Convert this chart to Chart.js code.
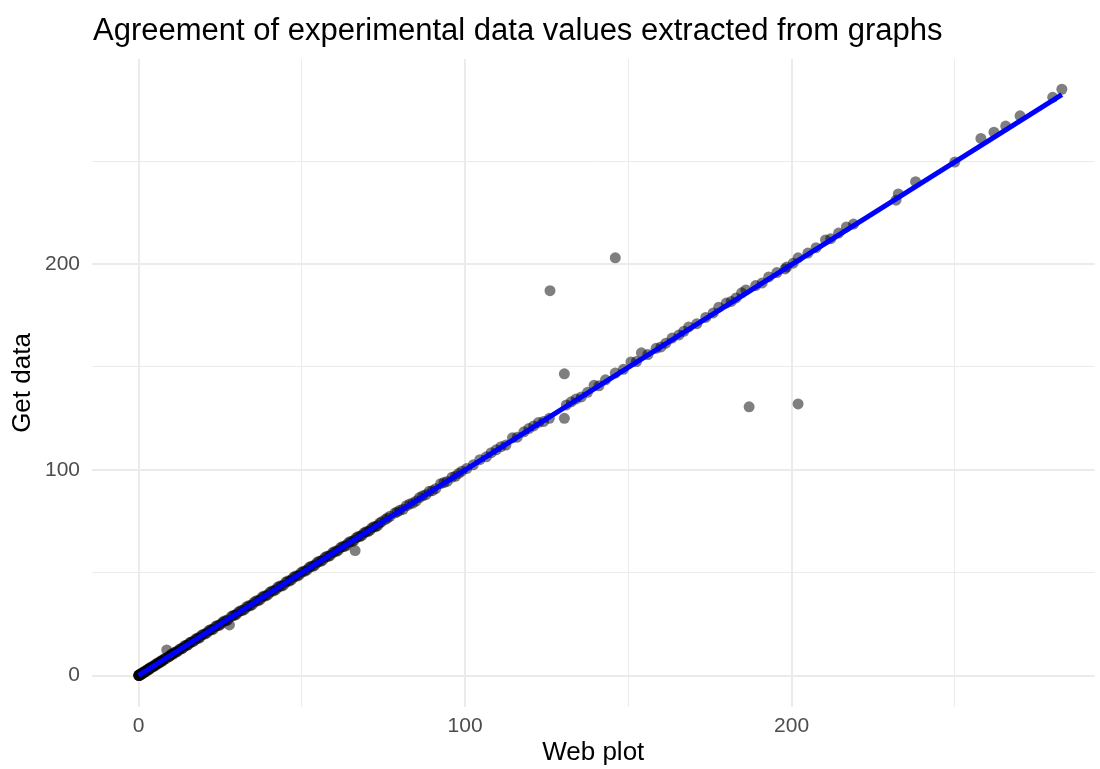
<!DOCTYPE html>
<html>
<head>
<meta charset="utf-8">
<script src="https://cdn.jsdelivr.net/npm/chart.js@4/dist/chart.umd.min.js"></script>
<style>
  html, body { margin: 0; padding: 0; background: #fff; }
  canvas { display: block; }
</style>
</head>
<body>
<canvas id="chart" width="1100" height="769"></canvas>
<script>
// Sample Data
const webPlot = [
    0, 0, 0.1, 0.2, 0.3, 0.4, 0.6, 0.8, 1.0, 1.2, 1.4, 1.7, 2.0, 2.3, 2.6, 3.0, 3.4, 3.8, 4.2, 4.6,
    5.1, 5.6, 6.1, 6.6, 7.1, 7.7, 8.3, 8.6, 9.0, 9.6, 10.2,
    10.9, 11.6, 12.4, 13.2, 14.0, 14.8, 15.6, 16.5, 17.4, 18.3, 19.3, 20.4, 21.4, 22.4, 23.5, 24.6,
    25.7, 26.8, 27.8, 28.9, 30.0, 31.2, 32.4, 33.6, 34.8, 36.0, 37.2, 38.4, 39.6, 40.8, 42.0, 43.2,
    44.4, 45.6, 46.8, 48.0, 49.2, 50.4, 51.6, 52.8, 54.0, 55.2, 56.4, 57.6, 58.8, 60.0, 61.2, 62.4,
    63.6, 64.8, 66.0, 66.3, 67.2, 68.4, 69.6, 70.8, 72.0, 73.2, 74.4,
    75.5, 77, 78.5, 80, 82, 84, 86, 88, 89, 91, 92.5, 94.5, 96, 98, 100.5, 102.5, 104.5, 106.5, 108,
    109.5, 111, 112.5, 114.5, 116, 118, 119.5, 121, 122.5, 124, 125.8, 126, 130.4, 130.4, 131, 132.5,
    134, 135.6, 137.5, 139.5, 141, 143, 146, 146,
    148.5, 150.8, 152.5, 154, 156, 158.5, 160, 161.5, 163.4, 165.5, 167, 168.5, 171, 173.7, 176,
    177.7, 180, 181.5, 183, 184.7, 186, 187, 189, 191, 193, 195.5, 198, 198.5, 200.5, 202, 202, 205,
    207.5, 210.4, 212, 214.4, 216.8, 219,
    232, 232.7, 238, 250, 258, 262, 265.6, 270, 280, 282.8,
    // second pass over the crowded low range
    0.05, 0.15, 0.25, 0.5, 0.7, 0.9, 1.1, 1.5, 1.8, 2.2, 2.8, 3.2, 3.6, 4.4, 4.9, 5.3, 5.9, 6.4, 6.9,
    7.4, 8.0, 9.3, 9.9, 10.5, 11.2, 12.0, 12.8, 13.6, 14.4, 15.2, 16.0, 17.0, 17.9, 18.8, 19.8, 20.9,
    21.9, 22.9, 24.0, 25.1, 26.2, 27.3, 28.4, 29.5, 30.6, 31.8, 33.0, 34.2, 35.4, 36.6, 37.8, 39.0,
    40.2, 41.4, 42.6, 43.8, 45.0, 46.2, 47.4, 48.6, 49.8, 51.0, 52.2, 53.4, 54.6, 55.8, 57.0, 58.2,
    59.4, 60.6, 61.8, 63.0, 64.2, 65.4, 66.6, 67.8, 69.0, 70.2, 71.4, 72.6, 73.8, 76.2, 79.2, 81, 83,
    85, 87, 90, 93.5, 97, 99,
];
const getData = [
    0, 0.2, 0, 0.3, 0.1, 0.5, 0.4, 0.9, 0.8, 1.3, 1.2, 1.6, 2.2, 2.1, 2.8, 2.9, 3.6, 3.7, 4.4, 4.5,
    5.0, 5.8, 6.0, 6.8, 7.0, 7.9, 8.1, 12.4, 9.2, 9.5, 10.4,
    11.1, 11.4, 12.6, 13.0, 14.3, 14.6, 15.9, 16.3, 17.6, 18.1, 19.6, 20.2, 21.7, 22.2, 23.8, 24.3,
    25.9, 26.6, 24.6, 29.2, 29.8, 31.5, 32.1, 33.9, 34.5, 36.3, 36.9, 38.7, 39.3, 41.1, 41.7, 43.5,
    43.9, 45.9, 46.5, 48.3, 48.9, 50.7, 51.3, 53.1, 53.7, 55.5, 56.1, 57.9, 58.5, 60.3, 60.9, 62.7,
    63.3, 65.1, 65.7, 60.7, 67.5, 68.1, 69.9, 70.5, 72.3, 72.9, 74.7,
    75.8, 77.4, 79, 80.3, 82.5, 83.8, 86.5, 87.9, 89.5, 90.8, 93.2, 94.3, 96.4, 98.2, 100.6, 102.4,
    104.9, 106.3, 108.3, 109.7, 111.2, 112, 115.5, 115.8, 118.4, 120, 121.3, 123, 123.4, 125, 187,
    146.6, 125, 131.5, 133, 134.4, 135.4, 137.6, 141, 140.8, 143.7, 147, 203,
    148.8, 152.4, 152.6, 156.8, 156, 159, 159.7, 161.5, 164, 165.5, 167.3, 169.4, 171, 174, 176.2,
    179, 181, 181.8, 183.5, 186, 187.4, 130.6, 189.5, 190.8, 193.7, 195.8, 197.6, 198.5, 200.4, 203,
    132, 205.3, 207.9, 211.7, 212.3, 215, 218, 219.4,
    231, 234, 240, 249.5, 261, 264, 267, 272, 281, 284.9,
    0.1, 0.1, 0.4, 0.3, 0.8, 0.7, 1.4, 1.3, 2.0, 1.9, 3.0, 2.9, 3.9, 4.2, 5.2, 5.1, 6.2, 6.1, 7.2,
    7.1, 8.3, 9.1, 10.2, 10.3, 11.4, 11.8, 13.0, 13.4, 14.7, 15.0, 16.3, 16.8, 18.2, 18.6, 20.1, 20.7,
    22.2, 22.6, 24.3, 24.9, 26.5, 27.1, 28.7, 29.3, 30.9, 31.6, 33.3, 33.9, 35.7, 36.3, 38.1, 38.7,
    40.5, 41.1, 42.9, 43.5, 45.3, 45.9, 47.7, 48.3, 50.1, 50.7, 52.5, 53.1, 54.9, 55.5, 57.3, 57.9,
    59.7, 60.3, 62.1, 62.7, 64.5, 65.1, 66.9, 67.5, 69.3, 69.9, 71.7, 72.3, 74.1, 76.5, 79.5, 80.8, 83.3,
    84.8, 87.3, 89.8, 93.8, 96.8, 99.3,
];

// fitted line ends
const fitX = [0, 282.8];
const fitY = [0.1, 282.3];

const xTicks = [0, 50, 100, 150, 200, 250];
const yTicks = [0, 50, 100, 150, 200, 250];

const chartTitle = 'Agreement of experimental data values extracted from graphs';
const FONT = "'Liberation Sans', Arial, sans-serif";

const points = webPlot.map((x, i) => ({ x: x, y: getData[i] }));
const fitLine = fitX.map((x, i) => ({ x: x, y: fitY[i] }));

// draws the left-aligned plot title
const titlePlugin = {
    id: 'plotTitle',
    afterDraw(chart) {
        const ctx = chart.ctx;
        ctx.save();
        ctx.font = '31px ' + FONT;
        ctx.fillStyle = '#000';
        ctx.textBaseline = 'alphabetic';
        ctx.textAlign = 'left';
        ctx.fillText(chartTitle, chart.chartArea.left + 1, 40);
        ctx.restore();
    },
};

const gridOpts = {
    color: '#ebebeb',
    lineWidth: (c) => (c.tick && c.tick.value % 100 === 0 ? 2 : 1),
    drawTicks: false,
};

new Chart(document.getElementById('chart'), {
    type: 'scatter',
    data: {
        datasets: [
            {
                type: 'line',
                label: 'fit',
                data: fitLine,
                borderColor: '#0000ff',
                borderWidth: 5,
                pointRadius: 0,
                fill: false,
                tension: 0,
            },
            {
                label: 'values',
                data: points,
                backgroundColor: 'rgba(0, 0, 0, 0.5)',
                borderWidth: 0,
                pointRadius: 5.5,
            },
        ],
    },
    options: {
        responsive: false,
        animation: false,
        devicePixelRatio: 1,
        layout: { padding: { top: 59, right: 2, left: 0, bottom: 0 } },
        plugins: {
            legend: { display: false },
            tooltip: { enabled: false },
            title: { display: false },
        },
        scales: {
            x: {
                type: 'linear',
                min: -14.3,
                max: 292.8,
                border: { display: false },
                grid: gridOpts,
                afterBuildTicks: (s) => { s.ticks = xTicks.map((v) => ({ value: v })); },
                afterFit: (s) => { s.height = 62; },
                ticks: {
                    padding: 7,
                    color: '#4d4d4d',
                    font: { family: FONT, size: 21 },
                    maxRotation: 0,
                    autoSkip: false,
                    callback: (v) => (v % 100 === 0 ? String(v) : ''),
                },
                title: {
                    display: true,
                    text: 'Web plot',
                    color: '#000',
                    font: { family: FONT, size: 26, lineHeight: 1.2 },
                    padding: { top: 0, bottom: 1 },
                },
            },
            y: {
                type: 'linear',
                min: -15.3,
                max: 299.6,
                border: { display: false },
                grid: gridOpts,
                afterBuildTicks: (s) => { s.ticks = yTicks.map((v) => ({ value: v })); },
                afterFit: (s) => { s.width = 92; },
                ticks: {
                    padding: 12,
                    color: '#4d4d4d',
                    font: { family: FONT, size: 21 },
                    autoSkip: false,
                    callback: (v) => (v % 100 === 0 ? String(v) : ''),
                },
                title: {
                    display: true,
                    text: 'Get data',
                    color: '#000',
                    font: { family: FONT, size: 26, lineHeight: 1.2 },
                    padding: { top: 7, bottom: 7 },
                },
            },
        },
    },
    plugins: [titlePlugin],
});
</script>
</body>
</html>
